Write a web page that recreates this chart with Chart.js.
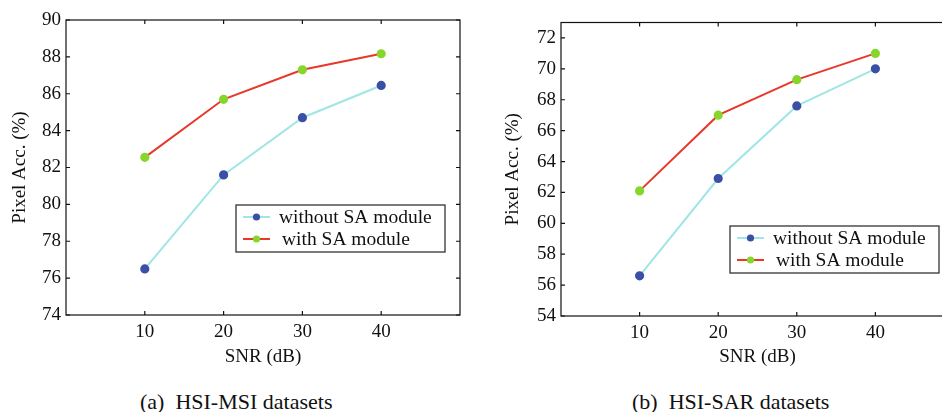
<!DOCTYPE html>
<html>
<head>
<meta charset="utf-8">
<script src="https://cdn.jsdelivr.net/npm/chart.js@4.4.0/dist/chart.umd.min.js"></script>
<style>
  html, body { margin: 0; padding: 0; background: #fff; overflow: hidden; width: 942px; height: 412px; }
  .wrap { position: absolute; }
  .cap { position: absolute; font-family: "Liberation Serif", serif; font-size: 22px; line-height: 24px; color: #111; white-space: pre; }
</style>
</head>
<body>
<div class="wrap" style="left:0;top:0;width:470px;height:380px;"><canvas id="c1"></canvas></div>
<div class="wrap" style="left:470px;top:0;width:500px;height:380px;"><canvas id="c2"></canvas></div>
<div class="cap" id="capA" style="left:140px;top:390px;">(a)  HSI-MSI datasets</div>
<div class="cap" id="capB" style="left:632px;top:390px;">(b)  HSI-SAR datasets</div>
<script>
// ---- data ----
const snr = [10, 20, 30, 40];
const seriesNames = ["without SA module", "with SA module"];
const msiWithout = [76.5, 81.6, 84.7, 86.45];
const msiWith = [82.55, 85.7, 87.3, 88.17];
const sarWithout = [56.6, 62.9, 67.6, 70.0];
const sarWith = [62.1, 67.0, 69.3, 71.0];
const msiYTicks = [74, 76, 78, 80, 82, 84, 86, 88, 90];
const sarYTicks = [54, 56, 58, 60, 62, 64, 66, 68, 70, 72];

const FONT = "Liberation Serif";
const cyan = "#9fe6e4", blue = "#3a4fa6", red = "#e8382a", green = "#86d62c";

function pts(xs, ys) { return xs.map((x, i) => ({ x: x, y: ys[i] })); }

const frame = {
  id: "frame",
  afterDraw(chart, args, o) {
    const { ctx, chartArea: a, scales } = chart;
    ctx.save();
    ctx.strokeStyle = "#111";
    ctx.lineWidth = 1.2;
    ctx.strokeRect(a.left, a.top, a.right - a.left, a.bottom - a.top);
    const L = 4;
    ctx.beginPath();
    scales.y.ticks.forEach(t => {
      const y = scales.y.getPixelForValue(t.value);
      ctx.moveTo(a.left, y); ctx.lineTo(a.left + L, y);
      ctx.moveTo(a.right, y); ctx.lineTo(a.right - L, y);
    });
    scales.x.ticks.forEach(t => {
      const x = scales.x.getPixelForValue(t.value);
      ctx.moveTo(x, a.bottom); ctx.lineTo(x, a.bottom - L);
      ctx.moveTo(x, a.top); ctx.lineTo(x, a.top + L);
    });
    ctx.stroke();
    // legend
    const lg = o.box;
    if (lg) {
      ctx.fillStyle = "#fff";
      ctx.fillRect(lg.x, lg.y, lg.w, lg.h);
      ctx.strokeStyle = "#333";
      ctx.lineWidth = 1.3;
      ctx.strokeRect(lg.x, lg.y, lg.w, lg.h);
      ctx.font = "19.5px '" + FONT + "'";
      ctx.textBaseline = "middle";
      chart.data.datasets.forEach((ds, i) => {
        const yy = lg.y + 12 + i * 22;
        ctx.strokeStyle = ds.borderColor;
        ctx.lineWidth = 2;
        ctx.beginPath();
        ctx.moveTo(lg.x + 7, yy); ctx.lineTo(lg.x + 34, yy);
        ctx.stroke();
        ctx.fillStyle = ds.pointBackgroundColor;
        ctx.beginPath();
        ctx.arc(lg.x + 20.5, yy, 3.6, 0, Math.PI * 2);
        ctx.fill();
        ctx.fillStyle = "#111";
        ctx.fillText(ds.label, lg.x + 43 + (i === 1 ? 3 : 0), yy + 1);
      });
    }
    ctx.restore();
  }
};

function makeChart(id, yMin, yMax, yTicks, dWithout, dWith, yW, xH, titlePadY, legendBox, padTop, padRight) {
  return new Chart(document.getElementById(id), {
    type: "line",
    data: {
      datasets: [
        { label: seriesNames[0], data: pts(snr, dWithout), borderColor: cyan, backgroundColor: cyan,
          pointBackgroundColor: blue, pointBorderColor: blue, pointRadius: 3.6, borderWidth: 2, tension: 0 },
        { label: seriesNames[1], data: pts(snr, dWith), borderColor: red, backgroundColor: red,
          pointBackgroundColor: green, pointBorderColor: green, pointRadius: 3.6, borderWidth: 2, tension: 0 }
      ]
    },
    plugins: [frame],
    options: {
      responsive: true,
      maintainAspectRatio: false,
      animation: false,
      layout: { padding: { top: padTop, right: padRight, left: 0, bottom: 0 } },
      plugins: { legend: { display: false }, tooltip: { enabled: false }, frame: { box: legendBox } },
      scales: {
        x: {
          type: "linear", min: 0, max: 50,
          afterBuildTicks: s => { s.ticks = snr.map(v => ({ value: v })); },
          afterFit: s => { s.height = xH; },
          grid: { display: false, drawTicks: false }, border: { display: false },
          ticks: { color: "#111", padding: 6, font: { family: FONT, size: 19 } },
          title: { display: true, text: "SNR (dB)", color: "#111", font: { family: FONT, size: 19 }, padding: { top: 0, bottom: 12 } }
        },
        y: {
          min: yMin, max: yMax,
          afterBuildTicks: s => { s.ticks = yTicks.map(v => ({ value: v })); },
          afterFit: s => { s.width = yW; },
          grid: { display: false, drawTicks: false }, border: { display: false },
          ticks: { color: "#111", padding: 5, font: { family: FONT, size: 19 } },
          title: { display: true, text: "Pixel Acc. (%)", color: "#111", font: { family: FONT, size: 19 }, padding: { top: titlePadY, bottom: 0 } }
        }
      }
    }
  });
}

makeChart("c1", 74, 90, msiYTicks, msiWithout, msiWith, 66, 65, 9, { x: 236, y: 205, w: 209, h: 47 }, 20, 10);
makeChart("c2", 54, 73, sarYTicks, sarWithout, sarWith, 91, 64, 32, { x: 730 - 470, y: 226, w: 209, h: 47 }, 22.5, 16);
</script>
</body>
</html>
